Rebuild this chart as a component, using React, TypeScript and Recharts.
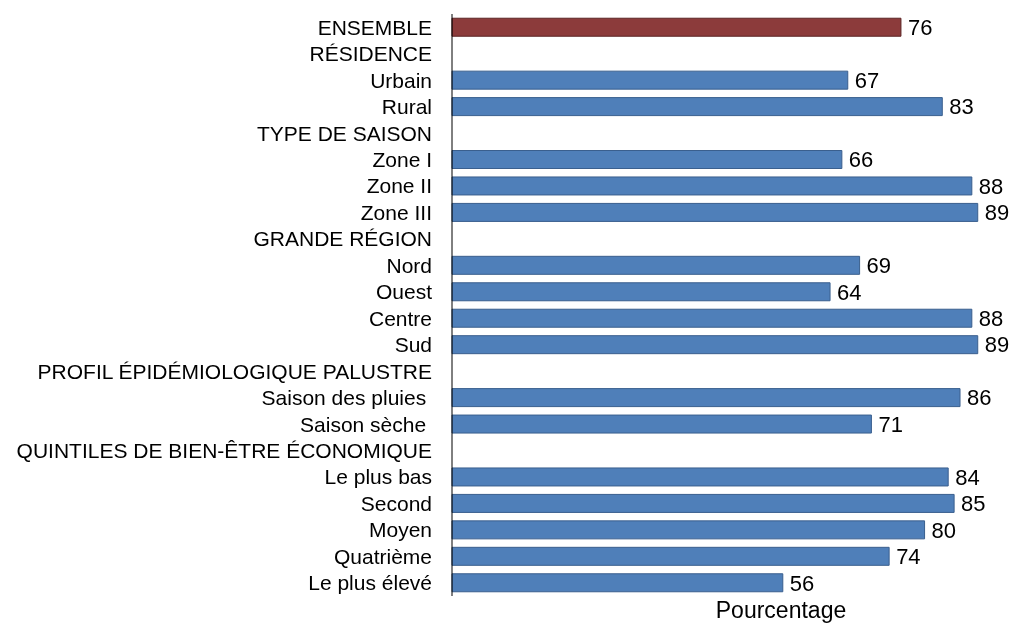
import { BarChart, Bar, XAxis, YAxis, Cell, LabelList } from 'recharts'

const categories = [
  'ENSEMBLE',
  'RÉSIDENCE',
  'Urbain',
  'Rural',
  'TYPE DE SAISON',
  'Zone I',
  'Zone II',
  'Zone III',
  'GRANDE RÉGION',
  'Nord',
  'Ouest',
  'Centre',
  'Sud',
  'PROFIL ÉPIDÉMIOLOGIQUE PALUSTRE',
  'Saison des pluies\u00A0',
  'Saison sèche\u00A0',
  'QUINTILES DE BIEN-ÊTRE ÉCONOMIQUE',
  'Le plus bas',
  'Second',
  'Moyen',
  'Quatrième',
  'Le plus élevé',
]

// null = section heading row, no bar
const values: (number | null)[] = [
  76, null, 67, 83, null, 66, 88, 89, null, 69, 64, 88, 89, null, 86, 71, null, 84, 85, 80, 74, 56,
]

const data = categories.map((name, i) => ({ name, value: values[i] }))

const font = 'Arial, "Liberation Sans", sans-serif'

export default function App() {
  return (
    <div style={{ position: 'fixed', left: 0, top: 0, width: 1012, height: 624, overflow: 'hidden', fontFamily: font }}>
      <BarChart
        width={1012}
        height={624}
        data={data}
        layout="vertical"
        margin={{ top: 14, right: 0, bottom: 0, left: 0 }}
        barCategoryGap="16%"
      >
        <XAxis
          type="number"
          domain={[0, 94.8]}
          axisLine={false}
          tickLine={false}
          tick={false}
          height={28}
          label={{ value: 'Pourcentage', position: 'insideBottom', offset: 6, dx: 49, fontSize: 23, fill: '#000' }}
        />
        <YAxis
          type="category"
          dataKey="name"
          width={452}
          tickLine={false}
          tickSize={0}
          tickMargin={20}
          axisLine={{ stroke: '#000', strokeWidth: 1 }}
          interval={0}
          tick={{ fontSize: 21, fill: '#000', fontFamily: font }}
        />
        <Bar dataKey="value" isAnimationActive={false}>
          {data.map((d, i) => (
            <Cell key={d.name} fill={i === 0 ? '#8c3b3b' : '#4f7fb9'} stroke={i === 0 ? '#5c2424' : '#3a5f8e'} strokeWidth={1} />
          ))}
          <LabelList
            dataKey="value"
            position="right"
            offset={7}
            fill="#000"
            fontSize={22}
            fontFamily={font}
            formatter={(v: any) => (v == null ? '' : v)}
          />
        </Bar>
      </BarChart>
    </div>
  )
}
